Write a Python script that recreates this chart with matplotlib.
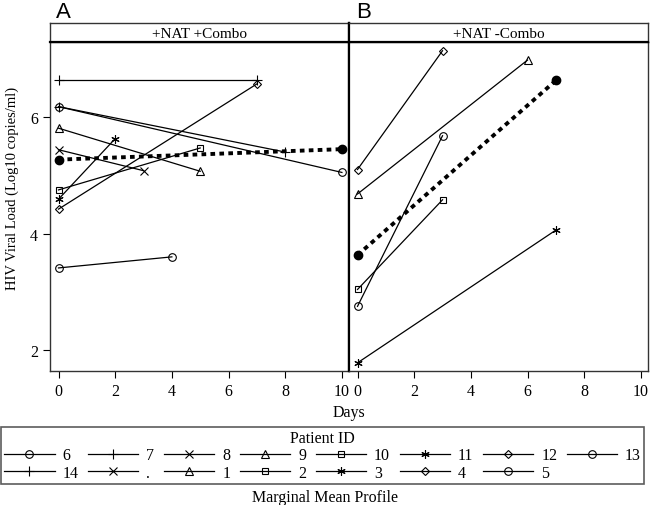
import numpy as np
import matplotlib
matplotlib.use("Agg")
import matplotlib.pyplot as plt
from matplotlib.lines import Line2D

plt.rcParams['font.family'] = ['Liberation Serif', 'DejaVu Serif']

# panel A: +NAT +Combo  (patient id, days, log10 viral load)
a_ids = ['6', '7', '8', '9', '10', '11', '12', '13', '14']
a_days = [[0, 10], [0, 7], [0, 3], [0, 5], [0, 5], [0, 2], [0, 7], [0, 4], [0, 8]]
a_vals = [[6.18, 5.05], [6.64, 6.64], [5.44, 5.08], [5.81, 5.07], [4.75, 5.47],
          [4.59, 5.63], [4.42, 6.57], [3.41, 3.60], [6.18, 5.40]]
a_mean_days = [0, 10]
a_mean_vals = [5.27, 5.45]

# panel B: +NAT -Combo
b_ids = ['1', '2', '3', '4', '5']
b_days = [[0, 6], [0, 3], [0, 7], [0, 3], [0, 3]]
b_vals = [[4.68, 6.98], [3.04, 4.58], [1.78, 4.06], [5.10, 7.14], [2.75, 5.68]]
b_mean_days = [0, 7]
b_mean_vals = [3.63, 6.63]

legend_ids = ['6', '7', '8', '9', '10', '11', '12', '13',
              '14', '.', '1', '2', '3', '4', '5']
ast = (6, 2, 0)
markers = {'6': 'o', '7': '+', '8': 'x', '9': '^', '10': 's', '11': ast,
           '12': 'D', '13': 'o', '14': '+', '.': 'x', '1': '^', '2': 's',
           '3': ast, '4': 'D', '5': 'o'}
msize = {'o': 5.5, '+': 7, 'x': 6, '^': 5.5, 's': 5, 'D': 4.5, ast: 6}

W, H = 650, 506
fig = plt.figure(figsize=(6.5, 5.06), dpi=100)

def px(x0, y0, x1, y1):
    return [x0 / W, 1 - y1 / H, (x1 - x0) / W, (y1 - y0) / H]

axA = fig.add_axes(px(50, 43, 349, 372))
axB = fig.add_axes(px(349, 43, 648, 372), sharey=axA)
stA = fig.add_axes(px(50, 24, 349, 43))
stB = fig.add_axes(px(349, 24, 648, 43))

def draw_panel(ax, ids, days, vals, mdays, mvals):
    for pid, d, v in zip(ids, days, vals):
        m = markers[pid]
        ax.plot(d, v, color='black', lw=0.9, marker=m, ms=msize[m],
                mfc='none', mew=0.8, zorder=3)
    ax.plot(mdays, mvals, color='black', lw=2.8, linestyle=(0, (1.2, 1.1)),
            marker='o', ms=6, mfc='black', zorder=4)

draw_panel(axA, a_ids, a_days, a_vals, a_mean_days, a_mean_vals)
draw_panel(axB, b_ids, b_days, b_vals, b_mean_days, b_mean_vals)

for ax in (axA, axB):
    ax.set_xlim(-0.3, 10.25)
    ax.set_xticks([0, 2, 4, 6, 8, 10])
    ax.tick_params(direction='out', length=5, width=0.8, labelsize=11.5)
    for s in ax.spines.values():
        s.set_linewidth(1.0)
        s.set_color('#333333')
axA.set_ylim(1.64, 7.29)
axA.set_yticks([2, 4, 6])
axB.tick_params(axis='y', left=False, labelleft=False)
for s in (axA.spines['right'], axB.spines['left']):
    s.set_linewidth(1.6)
    s.set_color('black')

for st, title in ((stA, '+NAT +Combo'), (stB, '+NAT -Combo')):
    st.set_xticks([])
    st.set_yticks([])
    for s in st.spines.values():
        s.set_linewidth(1.0)
        s.set_color('#333333')
    st.spines['bottom'].set_linewidth(1.6)
    st.spines['bottom'].set_color('black')
    st.text(0.5, 0.45, title, ha='center', va='center', fontsize=11,
            transform=st.transAxes)
stA.spines['right'].set_linewidth(1.6)
stA.spines['right'].set_color('black')
stB.spines['left'].set_linewidth(1.6)
stB.spines['left'].set_color('black')

fig.text(56 / W, 1 - 13 / H, 'A', fontsize=16, ha='left', va='center',
         family=['Liberation Sans'])
fig.text(356 / W, 1 - 13 / H, 'B', fontsize=16, ha='left', va='center',
         family=['Liberation Sans'])

fig.text(12 / W, 1 - 188 / H, 'HIV Viral Load (Log10 copies/ml)',
         rotation=90, ha='center', va='center', fontsize=10.5)
fig.text(349 / W, 1 - 413 / H, 'Days', ha='center', va='center', fontsize=11.5)

handles = []
for pid in legend_ids:
    m = markers[pid]
    handles.append(Line2D([], [], color='black', lw=0.9, marker=m,
                          ms=msize[m], mfc='none', mew=0.8))
# reorder so the legend reads row by row
order = []
for c in range(8):
    order.append(c)
    if c + 8 < len(legend_ids):
        order.append(c + 8)
leg = fig.legend([handles[i] for i in order], [legend_ids[i] for i in order],
                 ncol=8, title='Patient ID', fontsize=11.5, title_fontsize=11.5,
                 loc='upper left', bbox_to_anchor=(1 / W, 1 - 428 / H),
                 handlelength=3.15, handletextpad=0.5, columnspacing=0.6,
                 labelspacing=0.08, borderpad=0.2, fancybox=False,
                 frameon=True, edgecolor='#333333', borderaxespad=0)
leg.get_frame().set_linewidth(1.2)

fig.text(325 / W, 1 - 498 / H, 'Marginal Mean Profile', ha='center',
         va='center', fontsize=11.5)

fig.savefig('out.png', dpi=100)
